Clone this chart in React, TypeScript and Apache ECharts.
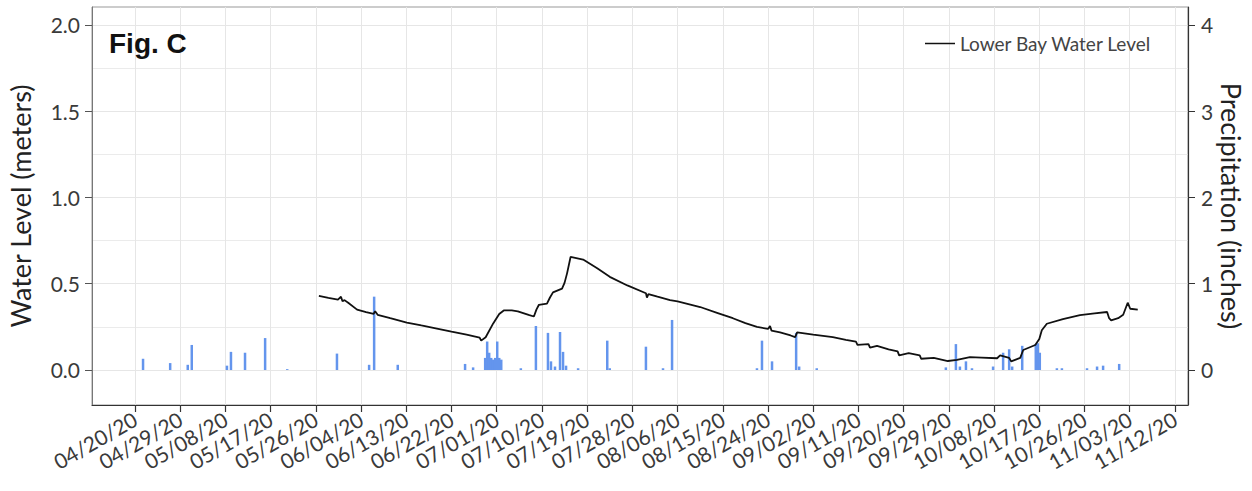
import React, { useEffect, useRef } from "react";
import * as echarts from "echarts";

// x positions are days since 04/20/2020
const TICK_LABELS = [
  "04/20/20", "04/29/20", "05/08/20", "05/17/20", "05/26/20", "06/04/20",
  "06/13/20", "06/22/20", "07/01/20", "07/10/20", "07/19/20", "07/28/20",
  "08/06/20", "08/15/20", "08/24/20", "09/02/20", "09/11/20", "09/20/20",
  "09/29/20", "10/08/20", "10/17/20", "10/26/20", "11/03/20", "11/12/20",
];
const TICK_DAYS = [
  0, 9, 18, 27, 36, 45, 54, 63, 72, 81, 90, 99, 108, 117, 126, 135, 144, 153,
  162, 171, 180, 189, 198, 207,
];

const LEFT_TICKS = [0, 0.5, 1, 1.5, 2];
const LEFT_MINOR = [0.25, 0.75, 1.25, 1.75];
const RIGHT_TICKS = [0, 1, 2, 3, 4];

const LEVEL_DAYS = [
  36.6, 38.5, 40.4, 41.0, 41.3, 41.7, 42.5, 44.2, 46.0, 47.5, 47.8, 48.3, 50.8,
  54.1, 57.0, 60.1, 63.0, 66.0, 68.6, 68.9, 69.8, 71.3, 72.5, 73.4, 75.0, 76.2,
  78.5, 79.4, 79.9, 80.4, 82.0, 82.6, 83.2, 85.0, 85.5, 86.0, 86.7, 89.2, 92.0,
  94.5, 98.0, 101.7, 101.9, 102.2, 104.0, 106.5, 108.0, 112.5, 116.0, 119.0,
  121.5, 123.8, 126.0, 126.4, 126.7, 128.4, 130.5, 131.4, 131.8, 135.0, 138.9,
  141.5, 143.5, 143.8, 146.0, 146.3, 147.7, 150.0, 151.8, 152.1, 154.0, 156.2,
  156.5, 159.0, 161.8, 163.6, 166.2, 168.5, 171.6, 172.2, 174.0, 174.4, 176.2,
  176.8, 179.2, 180.0, 180.5, 181.5, 184.7, 188.1, 191.0, 193.5, 193.9, 194.3,
  195.7, 196.7, 197.6, 198.1, 199.6,
];
const LEVEL_M = [
  0.43, 0.418, 0.408, 0.425, 0.398, 0.405, 0.388, 0.35, 0.335, 0.325, 0.34,
  0.32, 0.3, 0.275, 0.258, 0.24, 0.222, 0.205, 0.188, 0.17, 0.19, 0.27, 0.325,
  0.345, 0.345, 0.34, 0.318, 0.31, 0.35, 0.378, 0.385, 0.42, 0.45, 0.472, 0.505,
  0.56, 0.655, 0.64, 0.59, 0.54, 0.49, 0.445, 0.42, 0.44, 0.425, 0.405, 0.398,
  0.365, 0.33, 0.3, 0.272, 0.25, 0.238, 0.255, 0.228, 0.218, 0.2, 0.19, 0.218,
  0.205, 0.19, 0.175, 0.165, 0.145, 0.15, 0.13, 0.14, 0.12, 0.108, 0.085, 0.098,
  0.085, 0.065, 0.07, 0.052, 0.058, 0.075, 0.072, 0.068, 0.085, 0.07, 0.05,
  0.07, 0.116, 0.145, 0.18, 0.23, 0.268, 0.295, 0.318, 0.328, 0.336, 0.3, 0.288,
  0.3, 0.32, 0.39, 0.355, 0.35,
];

const PRECIP_DAYS = [
  1.6, 7.0, 10.5, 11.3, 18.3, 19.1, 21.9, 25.9, 30.3, 40.2, 46.6, 47.6, 52.3,
  65.7, 67.3, 69.7, 70.1, 70.5, 70.9, 71.3, 71.7, 72.1, 72.5, 72.9, 76.8, 79.8,
  82.2, 82.8, 83.6, 84.6, 85.2, 85.8, 88.2, 94.0, 94.5, 101.7, 105.1, 106.9,
  123.8, 124.8, 126.8, 131.6, 132.2, 135.7, 161.4, 163.4, 164.2, 165.4, 166.6,
  170.8, 172.8, 174.0, 174.6, 176.6, 179.3, 179.7, 180.1, 183.5, 184.5, 189.5,
  191.5, 192.7, 195.9,
];
const PRECIP_IN = [
  0.13, 0.08, 0.06, 0.29, 0.05, 0.21, 0.2, 0.37, 0.01, 0.19, 0.06, 0.85, 0.06,
  0.07, 0.03, 0.14, 0.33, 0.2, 0.14, 0.12, 0.14, 0.33, 0.14, 0.12, 0.02, 0.51,
  0.43, 0.1, 0.04, 0.44, 0.21, 0.05, 0.02, 0.34, 0.02, 0.27, 0.02, 0.58, 0.02,
  0.34, 0.1, 0.43, 0.04, 0.02, 0.03, 0.3, 0.04, 0.1, 0.02, 0.04, 0.2, 0.24,
  0.04, 0.28, 0.3, 0.31, 0.2, 0.02, 0.02, 0.02, 0.04, 0.05, 0.07,
];

const FONT = "Lato";
const GRID_COLOR = "#e6e6e6";
const LABEL_COLOR = "#3a3a3a";

export default function App() {
  const ref = useRef<HTMLDivElement>(null);

  useEffect(() => {
    if (!ref.current) return;
    const chart = echarts.init(ref.current, null, { renderer: "svg" });
    chart.setOption({
      animation: false,
      backgroundColor: "#ffffff",
      textStyle: { fontFamily: FONT },
      grid: {
        left: 92,
        right: 64,
        top: 7,
        bottom: 86,
        containLabel: false,
        outerBoundsMode: "none",
        show: true,
        borderColor: "#999999",
        borderWidth: 1,
        backgroundColor: "transparent",
      },
      legend: {
        data: ["Lower Bay Water Level"],
        left: 920,
        top: 29,
        icon: "rect",
        itemWidth: 30,
        itemHeight: 1.5,
        itemGap: 6,
        textStyle: { fontFamily: FONT, fontSize: 19, color: "#444" },
      },
      graphic: [
        {
          type: "text",
          left: 109,
          top: 29,
          z: 100,
          style: {
            text: "Fig. C",
            fontFamily: "Liberation Sans",
            fontWeight: "bold",
            fontSize: 28,
            fill: "#111",
          },
        },
      ],
      xAxis: {
        type: "value",
        min: -8.56,
        max: 209.6,
        axisLine: { show: true, onZero: false, lineStyle: { color: "#333", width: 1.2 } },
        axisTick: {
          show: true,
          customValues: TICK_DAYS,
          length: 7,
          lineStyle: { color: "#333", width: 1.2 },
        },
        axisLabel: {
          customValues: TICK_DAYS,
          rotate: 30,
          margin: 12,
          fontSize: 21,
          fontFamily: FONT,
          color: LABEL_COLOR,
          hideOverlap: false,
          formatter: (v: number) => {
            const i = TICK_DAYS.indexOf(Math.round(v));
            return i >= 0 ? TICK_LABELS[i] : "";
          },
        },
        splitLine: { show: true, lineStyle: { color: GRID_COLOR, width: 1 } },
      },
      yAxis: [
        {
          type: "value",
          position: "left",
          min: -0.203,
          max: 2.104,
          name: "Water Level (meters)",
          nameLocation: "middle",
          nameRotate: 90,
          nameGap: 58,
          nameTextStyle: { fontFamily: FONT, fontSize: 27, color: "#222" },
          axisLine: { show: true, onZero: false, lineStyle: { color: "#777", width: 1 } },
          axisTick: {
            show: true,
            customValues: LEFT_TICKS,
            length: 7,
            lineStyle: { color: "#555" },
          },
          axisLabel: {
            customValues: LEFT_TICKS,
            fontSize: 21,
            fontFamily: FONT,
            color: LABEL_COLOR,
            margin: 12,
            formatter: (v: number) => v.toFixed(1),
          },
          splitLine: { show: true, lineStyle: { color: GRID_COLOR, width: 1 } },
        },
        {
          type: "value",
          position: "right",
          min: -0.406,
          max: 4.208,
          name: "Precipitation (inches)",
          nameLocation: "middle",
          nameRotate: -90,
          nameGap: 30,
          nameMoveOverlap: false,
          nameTextStyle: { fontFamily: FONT, fontSize: 27, color: "#222" },
          axisLine: { show: true, onZero: false, lineStyle: { color: "#333", width: 1.2 } },
          axisTick: {
            show: true,
            customValues: RIGHT_TICKS,
            length: 7,
            lineStyle: { color: "#333" },
          },
          axisLabel: {
            customValues: RIGHT_TICKS,
            fontSize: 21,
            fontFamily: FONT,
            color: LABEL_COLOR,
            margin: 13,
            formatter: (v: number) => String(Math.round(v)),
          },
          splitLine: { show: false },
        },
        {
          type: "value",
          position: "left",
          min: -0.203,
          max: 2.104,
          axisLine: { show: false, onZero: false },
          axisTick: { show: false, customValues: LEFT_MINOR },
          axisLabel: { show: false, customValues: LEFT_MINOR },
          splitLine: { show: true, lineStyle: { color: GRID_COLOR, width: 0.8 } },
        },
      ],
      series: [
        {
          name: "Precipitation",
          type: "bar",
          yAxisIndex: 1,
          barWidth: 2.5,
          itemStyle: { color: "#6495ED" },
          data: PRECIP_DAYS.map((d, i) => [d, PRECIP_IN[i]]),
          z: 2,
        },
        {
          name: "Lower Bay Water Level",
          type: "line",
          yAxisIndex: 0,
          showSymbol: false,
          symbol: "none",
          lineStyle: { color: "#111", width: 1.8 },
          itemStyle: { color: "#111" },
          data: LEVEL_DAYS.map((d, i) => [d, LEVEL_M[i]]),
          z: 3,
        },
      ],
    });
    return () => chart.dispose();
  }, []);

  return (
    <div
      ref={ref}
      style={{ position: "fixed", left: 0, top: 0, width: 1252, height: 491, background: "#fff" }}
    />
  );
}
